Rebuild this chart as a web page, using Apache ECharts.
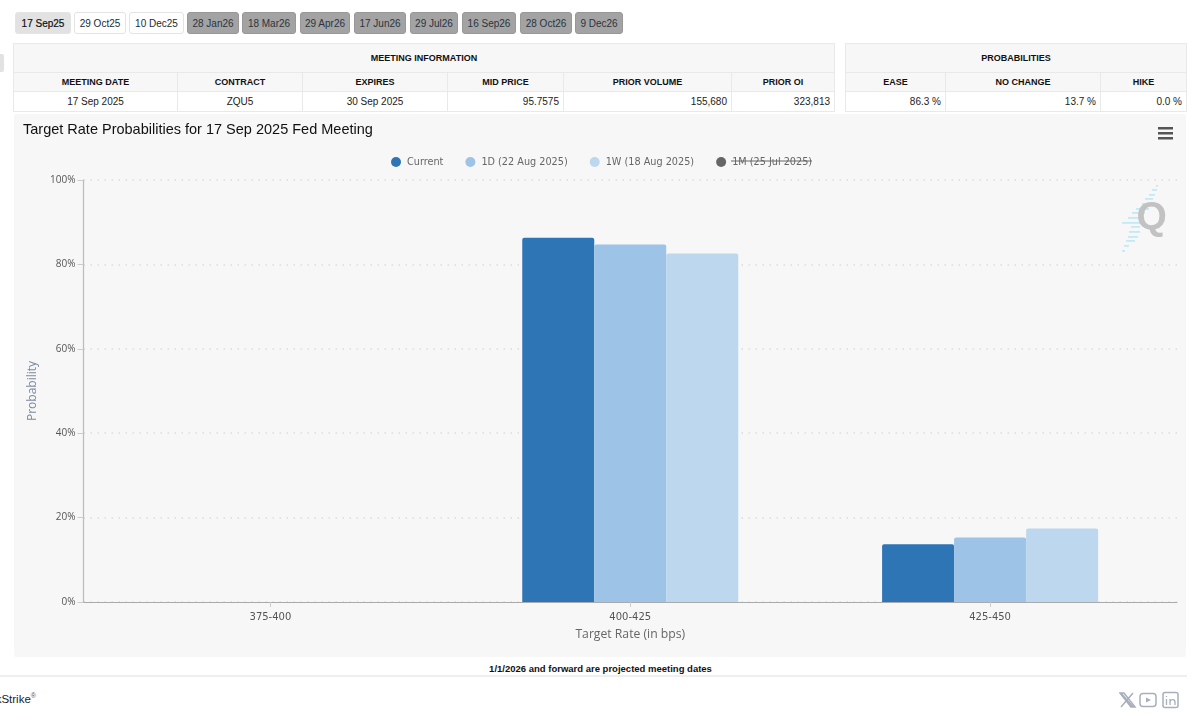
<!DOCTYPE html>
<html><head><meta charset="utf-8">
<script src="https://cdn.jsdelivr.net/npm/echarts@6/dist/echarts.min.js"></script>
<style>
html,body{margin:0;padding:0;background:#fff;width:1192px;height:720px;overflow:hidden;font-family:"Liberation Sans",Arial,sans-serif;color:#111}
.btn{position:absolute;top:12px;height:22px;line-height:21px;text-align:center;font-size:10px;box-sizing:border-box;border-radius:3px;border:1px solid #e4e4e4;background:#fff;color:#1a2a3a}
.btn.on{background:#e2e2e2;color:#111;-webkit-text-stroke:0.2px #111}
.btn.off{background:#a3a3a3;border-color:#989898;color:#2a3440}
table{position:absolute;top:43px;border-collapse:collapse;table-layout:fixed;font-size:9px;box-sizing:border-box}
td{border:1.5px solid #e9e9e9;padding:0 4px;box-sizing:border-box;overflow:hidden;white-space:nowrap}
td.h{background:#f7f7f7;text-align:center;font-weight:bold}
td.v{background:#fff;font-size:10px;color:#222}
#chart{position:absolute;left:14px;top:114px;width:1172px;height:543px;border-radius:3px;overflow:hidden}
#tab{position:absolute;left:0;top:54px;width:4px;height:18px;background:#e2e2e2;border-radius:0 2px 2px 0}
#note{position:absolute;left:300.500px;width:600px;top:663px;text-align:center;font-size:9.500px;font-weight:bold;color:#111;line-height:12px}
#rule{position:absolute;left:0;top:675px;width:1187px;height:2px;background:#efefef}
#brand{position:absolute;right:1156px;top:692px;font-size:11.500px;color:#222;white-space:nowrap}
#brand sup{font-size:7px;color:#555}
#icons{position:absolute;left:1119px;top:690px}
</style></head><body>
<div id="buttons"></div>
<div id="tab"></div>
<div id="tables"></div>
<div id="chart"></div>
<div id="note">1/1/2026 and forward are projected meeting dates</div>
<div id="rule"></div>
<div id="brand">QuikStrike<sup>®</sup></div>
<svg id="icons" width="64" height="20" viewBox="0 0 64 20" fill="none" stroke="#a9afba" stroke-width="1.5">
<path d="M2 3 L14 17 M14 3 L2 17 M1 3h4l11 14h-4z"/>
<rect x="21" y="3.5" width="16" height="13" rx="3"/><path d="M27 7.5l5 2.5-5 2.5z" fill="#a9afba" stroke="none"/>
<rect x="44" y="2.5" width="15" height="15" rx="2"/><path d="M47.5 9v6M47.5 6v1M51 15V9M51 11.5c1-2.500 5-2.500 5 .5V15" stroke-width="1.300"/>
</svg>
<script>
// ---- chart data ----
const categories = ['375-400', '400-425', '425-450'];
const current = [0, 86.3, 13.7];
const oneDay = [0, 84.7, 15.3];
const oneWeek = [0, 82.6, 17.4];
const seriesNames = ['Current', '1D (22 Aug 2025)', '1W (18 Aug 2025)', '1M (25 Jul 2025)'];
const seriesColors = ['#2e75b6', '#9dc3e6', '#bdd7ee', '#666666'];
const chartTitle = 'Target Rate Probabilities for 17 Sep 2025 Fed Meeting';
const xTitle = 'Target Rate (in bps)';
const yTitle = 'Probability';
// ---- page tables ----
const meetingDates = ['17 Sep25','29 Oct25','10 Dec25','28 Jan26','18 Mar26','29 Apr26','17 Jun26','29 Jul26','16 Sep26','28 Oct26','9 Dec26'];
const buttonEdges = [[15,71],[74,126],[129,184],[187,239],[242,296],[300,350],[354,406],[410,458],[462,516],[520,572],[575,623]];
const infoHeaders = ['MEETING DATE','CONTRACT','EXPIRES','MID PRICE','PRIOR VOLUME','PRIOR OI'];
const infoValues = ['17 Sep 2025','ZQU5','30 Sep 2025','95.7575','155,680','323,813'];
const infoAlign = ['center','center','center','right','right','right'];
const infoWidths = [164,125,145,116,168,103];
const probHeaders = ['EASE','NO CHANGE','HIKE'];
const probValues = ['86.3 %','13.7 %','0.0 %'];
const probWidths = [100,155,86];

document.getElementById('buttons').innerHTML = meetingDates.map((d,i)=>{
  const cls = i===0?'on':(i<3?'':'off');
  return `<div class="btn ${cls}" style="left:${buttonEdges[i][0]}px;width:${buttonEdges[i][1]-buttonEdges[i][0]}px">${d}</div>`;
}).join('');
function tbl(left,title,heads,vals,aligns,widths){
  const w=widths.reduce((a,b)=>a+b,0);
  return `<table style="left:${left}px;width:${w}px"><colgroup>${widths.map(x=>`<col style="width:${x}px">`).join('')}</colgroup>
  <tr style="height:29px"><td class="h" colspan="${heads.length}">${title}</td></tr>
  <tr style="height:19px">${heads.map(h=>`<td class="h">${h}</td>`).join('')}</tr>
  <tr style="height:20px">${vals.map((v,i)=>`<td class="v" style="text-align:${aligns[i]}">${v}</td>`).join('')}</tr></table>`;
}
document.getElementById('tables').innerHTML =
  tbl(13,'MEETING INFORMATION',infoHeaders,infoValues,infoAlign,infoWidths)+
  tbl(845,'PROBABILITIES',probHeaders,probValues,['right','right','right'],probWidths);

// ---- chart ----
const font = '"Open Sans","Noto Sans",sans-serif';
const wide = '"DejaVu Sans",sans-serif';
const chart = echarts.init(document.getElementById('chart'),null,{renderer:'canvas'});
const mk = (i,arr)=>({
  name:seriesNames[i],type:'bar',barWidth:72,barGap:0,
  itemStyle:{color:seriesColors[i],borderRadius:[2,2,0,0]},
  data:arr.map((v,k)=>[k,v]),silent:true
});
// watermark streaks, page-relative [left, right, y] minus the chart's own offset
const streaks = [[1156,1158,185],[1152,1157,189],[1149,1155,194],[1145,1153,198],[1142,1152,203],[1136,1149,208],[1132,1145,212],[1128,1142,217],[1122,1140,222],[1131,1140,226],[1129,1140,231],[1128,1138,236],[1126,1135,240],[1124,1129,245],[1122,1125,250]];
chart.setOption({
  animation:false,
  backgroundColor:'#f7f7f7',
  title:{text:chartTitle,left:4,top:3,textStyle:{fontFamily:'"Liberation Sans",Arial,sans-serif',fontSize:14.500,fontWeight:'normal',color:'#111'}},
  legend:{
    top:38,left:372,itemWidth:10,itemHeight:10,itemGap:22,icon:'circle',
    data:seriesNames,
    selected:{[seriesNames[3]]:false},
    inactiveColor:'#666',inactiveBorderColor:'#666',
    textStyle:{fontFamily:wide,fontSize:9.700,color:'#666',padding:[0,0,0,1]}
  },
  grid:{left:69.500,right:9,top:66,bottom:55},
  xAxis:{
    type:'value',min:-0.5194,max:2.5194,
    name:xTitle,nameLocation:'middle',nameGap:27,
    nameTextStyle:{fontFamily:font,fontSize:12.200,color:'#666'},
    splitLine:{show:false},
    axisLine:{show:true,onZero:false,lineStyle:{color:'#aaa'}},
    axisTick:{show:true,customValues:[0,1,2],length:5,lineStyle:{color:'#ccc'}},
    axisLabel:{customValues:[0,1,2],margin:10,fontFamily:wide,fontSize:10,color:'#555',
      formatter:v=>categories[Math.round(v)]}
  },
  yAxis:{
    type:'value',min:0,max:100,interval:20,
    name:yTitle,nameLocation:'middle',nameGap:45,
    nameTextStyle:{fontFamily:font,fontSize:12,color:'#7b8ba0'},
    axisLine:{show:true,onZero:false,lineStyle:{color:'#bbb',width:1.200}},
    axisTick:{show:true,length:6,lineStyle:{color:'#ccc'}},
    axisLabel:{margin:8,fontFamily:font,fontSize:10,color:'#555',formatter:'{value}%'},
    splitLine:{show:true,lineStyle:{color:'#dcdcdc',type:[1.500,5.500],width:1.500}}
  },
  series:[mk(0,current),mk(1,oneDay),mk(2,oneWeek),{name:seriesNames[3],type:'bar',barWidth:72,barGap:0,itemStyle:{color:seriesColors[3]},data:[]}],
  graphic:[
    {type:'group',right:13,top:13,children:[0,5,10].map(y=>({type:'rect',shape:{x:0,y:y,width:15,height:2.500},style:{fill:'#555'}}))},
    {type:'line',shape:{x1:717,y1:47,x2:798,y2:47},style:{stroke:'#666',lineWidth:1},z:10},
    ...streaks.map(s=>({type:'rect',silent:true,shape:{x:s[0]-14,y:s[2]-114,width:s[1]-s[0],height:1.800},style:{fill:'#c4e9f6'}})),
    {type:'text',left:1122.500,top:85,z:5,style:{text:'Q',fontFamily:'"Liberation Sans",Arial,sans-serif',fontWeight:'bold',fontSize:39,fill:'#c2c2c2'}}
  ]
});
</script>
</body></html>
